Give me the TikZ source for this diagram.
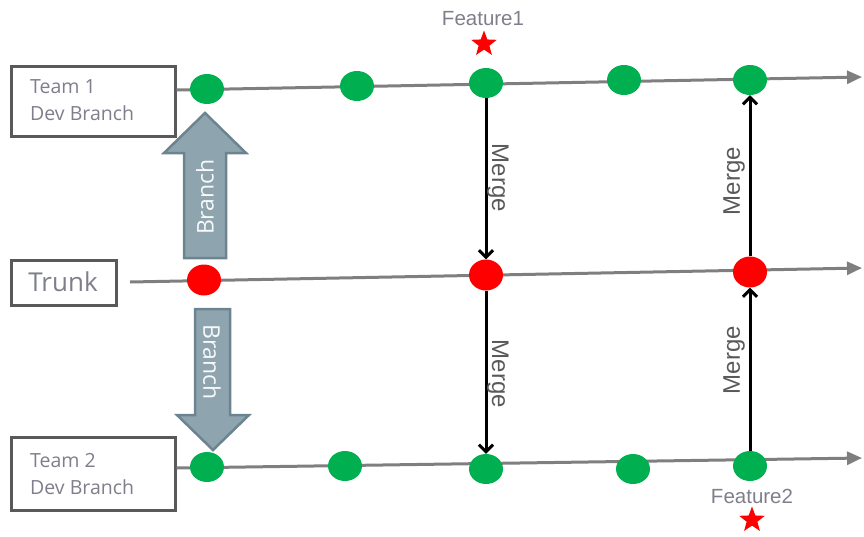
\documentclass[tikz,border=0pt]{standalone}
\usepackage{fontspec}
\setmainfont{Open Sans}
\newfontfamily\arialfont{Liberation Sans}
\usetikzlibrary{arrows.meta,shapes.geometric}
\definecolor{gdot}{HTML}{00B050}
\definecolor{rdot}{HTML}{FF0000}
\definecolor{lgray}{HTML}{7F7F7F}
\definecolor{bgray}{HTML}{595959}
\definecolor{tgray}{HTML}{7F7F8C}
\definecolor{afill}{HTML}{8EA4AF}
\definecolor{aedge}{HTML}{6C8490}
\tikzset{
  lbox/.style={draw=bgray,line width=3pt,fill=white,inner sep=0pt},
  gnode/.style={ellipse,fill=gdot,minimum width=34pt,minimum height=30pt,inner sep=0pt},
  rnode/.style={ellipse,fill=rdot,minimum width=34pt,minimum height=31pt,inner sep=0pt},
  mainline/.style={draw=lgray,line width=3pt,-{Triangle[length=15pt,width=13pt]}},
  mergearrow/.style={draw=black,line width=3pt,-{Straight Barb[length=7pt,width=14pt,line width=3pt]}},
  mergetxt/.style={text=bgray,font=\arialfont\fontsize{24}{24}\selectfont,inner sep=0pt},
  feattxt/.style={text=tgray,font=\arialfont\fontsize{20.5}{20.5}\selectfont,inner sep=0pt},
  brarrow/.style={fill=afill,draw=aedge,line width=2.5pt,line join=miter},
  brtxt/.style={text=white!95!gray,font=\fontsize{23}{23}\selectfont,inner sep=0pt},
  boxtxt/.style={text=tgray,anchor=west,align=left,font=\fontsize{19.5}{27}\selectfont,inner sep=0pt},
  fstar/.style={star,star points=5,star point ratio=2.4,fill=rdot,minimum size=27pt,inner sep=0pt}
}
\begin{document}
\begin{tikzpicture}[x=1pt,y=-1pt]
\useasboundingbox (0,0) rectangle (864,536);
% boxes
\node[lbox,minimum width=164pt,minimum height=70pt] (b1) at (93,101) {};
\node[boxtxt] (b1t) at (30,100) {Team 1\\Dev Branch};
\node[lbox,minimum width=105pt,minimum height=45pt] (bt) at (63.5,282.5) {};
\node[text=tgray,font=\fontsize{26}{26}\selectfont,inner sep=0pt] (btt) at (63,282) {Trunk};
\node[lbox,minimum width=164pt,minimum height=73pt] (b2) at (93,473.5) {};
\node[boxtxt] (b2t) at (30,474) {Team 2\\Dev Branch};
% line end coordinates
\coordinate (e1) at (862,77);
\coordinate (s0) at (130,282);
\coordinate (e0) at (862,268);
\coordinate (e2) at (862,458);
% main lines
\draw[mainline] (b1.east|-0,90) -- (e1);
\draw[mainline] (s0) -- (e0);
\draw[mainline] (b2.east|-0,468) -- (e2);
% dots team1
\node[gnode] (g11) at (207,89) {};
\node[gnode] (g12) at (357,86) {};
\node[gnode] (g13) at (486,83) {};
\node[gnode] (g14) at (624,80) {};
\node[gnode] (g15) at (750,80) {};
% trunk
\node[rnode] (r1) at (204,280) {};
\node[rnode] (r2) at (486,275) {};
\node[rnode] (r3) at (750,272) {};
% team2
\node[gnode] (g21) at (207,467) {};
\node[gnode] (g22) at (345,466) {};
\node[gnode] (g23) at (486,469) {};
\node[gnode] (g24) at (633,469) {};
\node[gnode] (g25) at (750,466) {};
% merges
\draw[mergearrow] (g13) -- (r2);
\draw[mergearrow] (r2) -- (g23);
\draw[mergearrow] (r3) -- (g15);
\draw[mergearrow] (g25) -- (r3);
\node[mergetxt,rotate=-90] (m1) at (498,178) {Merge};
\node[mergetxt,rotate=-90] (m2) at (498,374) {Merge};
\node[mergetxt,rotate=90] (m3) at (734,181) {Merge};
\node[mergetxt,rotate=90] (m4) at (734,360) {Merge};
% features
\node[feattxt] (f1) at (483,19) {Feature1};
\node[fstar] (s1) at (484,44) {};
\node[feattxt] (f2) at (752,496) {Feature2};
\node[fstar] (s2) at (752,520) {};
% branch arrows
\draw[brarrow] (184,258) -- (184,153) -- (164,153) -- (205,113) -- (246,153) -- (226,153) -- (226,258) -- cycle;
\node[brtxt,rotate=90] (bra1) at (205,197) {Branch};
\draw[brarrow] (195,309) -- (195,415) -- (177,415) -- (213,450) -- (249,415) -- (230,415) -- (230,309) -- cycle;
\node[brtxt,rotate=-90] (bra2) at (212,362) {Branch};
\end{tikzpicture}
\end{document}
